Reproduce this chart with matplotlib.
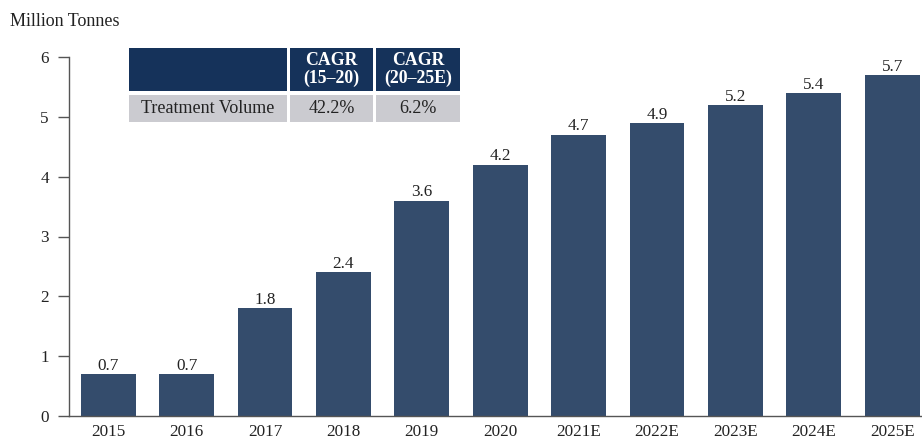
import matplotlib.pyplot as plt
from matplotlib.patches import Rectangle

plt.rcParams['font.family'] = ['Liberation Serif', 'DejaVu Serif']

# data
years = ['2015', '2016', '2017', '2018', '2019', '2020',
         '2021E', '2022E', '2023E', '2024E', '2025E']
volume = [0.7, 0.7, 1.8, 2.4, 3.6, 4.2, 4.7, 4.9, 5.2, 5.4, 5.7]
table_header = ['', 'CAGR\n(15–20)', 'CAGR\n(20–25E)']
table_row = ['Treatment Volume', '42.2%', '6.2%']

bar_color = '#344c6c'
W, H = 922, 441

fig = plt.figure(figsize=(W / 100, H / 100), dpi=100)
ax = fig.add_axes([69 / W, 1 - 416 / H, 1 - 69 / W, (416 - 57) / H])

x = range(len(years))
bars = ax.bar(x, volume, width=0.7, color=bar_color)
for b, v in zip(bars, volume):
    ax.text(b.get_x() + b.get_width() / 2, v + 0.005, f'{v:.1f}',
            ha='center', va='bottom', fontsize=12.3, color='#222222')

ax.set_xlim(-0.5, 10.38)
ax.set_ylim(0, 6)
ax.set_yticks(range(7))
ax.set_xticks(list(x))
ax.set_xticklabels(years)
ax.tick_params(axis='x', length=0, pad=5.5, labelsize=12.3, labelcolor='#222222')
ax.tick_params(axis='y', length=8, width=1, color='#555555', pad=6.5,
               labelsize=12.3, labelcolor='#222222')
for s in ['top', 'right']:
    ax.spines[s].set_visible(False)
for s in ['left', 'bottom']:
    ax.spines[s].set_color('#555555')
    ax.spines[s].set_linewidth(1)

fig.text(10 / W, 1 - 22 / H, 'Million Tonnes', fontsize=13,
         va='center', ha='left', color='#222222')

# CAGR table drawn in figure pixels
cols = [(129, 287), (290, 373), (376, 460)]
head_y = (48, 91)
row_y = (95, 122)


def box(x0, x1, y0, y1, color):
    fig.add_artist(Rectangle((x0 / W, 1 - y1 / H), (x1 - x0) / W, (y1 - y0) / H,
                             transform=fig.transFigure, facecolor=color,
                             edgecolor='none'))


for (x0, x1), h, r in zip(cols, table_header, table_row):
    box(x0, x1, head_y[0], head_y[1], '#15325a')
    box(x0, x1, row_y[0], row_y[1], '#cbcbd0')
    cx = (x0 + x1) / 2 / W
    fig.text(cx, 1 - sum(head_y) / 2 / H, h, ha='center', va='center',
             color='white', fontweight='bold', fontsize=12.8, linespacing=1.05)
    fig.text(cx, 1 - sum(row_y) / 2 / H, r, ha='center', va='center',
             color='#222222', fontsize=13)

fig.savefig('out.png', dpi=100)
